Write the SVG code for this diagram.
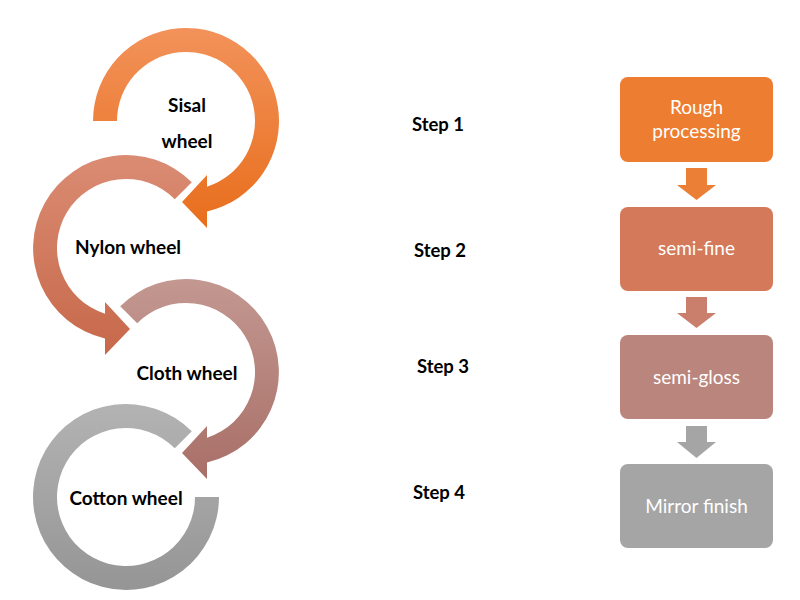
<svg xmlns="http://www.w3.org/2000/svg" width="800" height="600" viewBox="0 0 800 600">
<defs>
<linearGradient id="g1" x1="0" y1="0" x2="0" y2="1"><stop offset="0" stop-color="#F2925A"/><stop offset="1" stop-color="#E86E1C"/></linearGradient>
<linearGradient id="g2" x1="0" y1="0" x2="0" y2="1"><stop offset="0" stop-color="#DA8C73"/><stop offset="1" stop-color="#C7684A"/></linearGradient>
<linearGradient id="g3" x1="0" y1="0" x2="0" y2="1"><stop offset="0" stop-color="#C39891"/><stop offset="1" stop-color="#A86F67"/></linearGradient>
<linearGradient id="g4" x1="0" y1="0" x2="0" y2="1"><stop offset="0" stop-color="#B3B3B3"/><stop offset="1" stop-color="#959595"/></linearGradient>
<style>
.lbl{font-family:Lato,"Liberation Sans",sans-serif;font-weight:bold;font-size:19px;fill:#000;text-anchor:middle}
.stp{font-family:Lato,"Liberation Sans",sans-serif;font-weight:bold;font-size:18.5px;fill:#000;text-anchor:middle}
.box{font-family:Lato,"Liberation Sans",sans-serif;font-size:19px;fill:#fff;text-anchor:middle}
</style>
</defs>
<rect width="800" height="600" fill="#fff"/>
<g id="wheels">
<g id="sisal">
<path fill="url(#g1)" d="M93,121 A93,93 0 1 1 207,211.6 L207,228 L182,202 L207,175 L207,186.7 A69,69 0 1 0 117,121 Z"/>
<text class="lbl" x="187" y="112">Sisal</text>
<text class="lbl" x="187" y="148">wheel</text>
</g>
<g id="nylon">
<path fill="url(#g2)" d="M191.8,182.2 A93,93 0 1 0 105,338.6 L105,355 L130,329 L105,302 L105,313.7 A69,69 0 1 1 174.8,199.2 Z"/>
<text class="lbl" x="128" y="254">Nylon wheel</text>
</g>
<g id="cloth">
<path fill="url(#g3)" d="M120.2,306.2 A93,93 0 1 1 207,462.6 L207,479 L182,453 L207,426 L207,437.7 A69,69 0 1 0 137.2,323.2 Z"/>
<text class="lbl" x="187" y="380">Cloth wheel</text>
</g>
<g id="cotton">
<path fill="url(#g4)" d="M191.8,431.2 A93,93 0 1 0 219,497 L195,497 A69,69 0 1 1 174.8,448.2 Z"/>
<text class="lbl" x="126" y="505">Cotton wheel</text>
</g>
</g>
<g id="steps">
<text class="stp" x="438" y="131">Step 1</text>
<text class="stp" x="440" y="257">Step 2</text>
<text class="stp" x="443" y="373">Step 3</text>
<text class="stp" x="439" y="499">Step 4</text>
</g>
<g id="box1"><rect x="620" y="77" width="153" height="85" rx="8" fill="#ED7D31"/><text class="box" x="696.5" y="114">Rough</text><text class="box" x="696.5" y="138">processing</text></g>
<g id="box2"><rect x="620" y="207" width="153" height="84" rx="8" fill="#D4795A"/><text class="box" x="696.5" y="255">semi-fine</text></g>
<g id="box3"><rect x="620" y="335" width="153" height="84" rx="8" fill="#BA857C"/><text class="box" x="696.5" y="384">semi-gloss</text></g>
<g id="box4"><rect x="620" y="464" width="153" height="84" rx="8" fill="#A5A5A5"/><text class="box" x="696.5" y="513">Mirror finish</text></g>
<g id="connectors">
<path fill="#EC7F36" d="M686,168 H707 V185 H716 L696.5,200 L677,185 H686 Z"/>
<path fill="#C97F6C" d="M686,297 H707 V313 H716 L696.5,328 L677,313 H686 Z"/>
<path fill="#A5A5A5" d="M686,426 H707 V442 H716 L696.5,458 L677,442 H686 Z"/>
</g>
</svg>
